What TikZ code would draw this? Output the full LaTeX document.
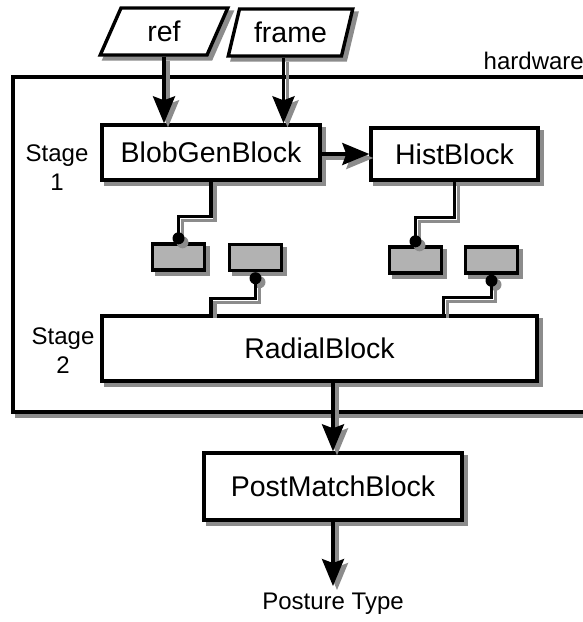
\documentclass[tikz,border=0pt]{standalone}
\usepackage{fontspec}
\setmainfont{Liberation Sans}
\usetikzlibrary{shapes.geometric,arrows.meta,shadows}
\definecolor{shadowgray}{RGB}{140,140,140}
\definecolor{boxgray}{RGB}{178,178,178}
\newcommand\bigfnt{\fontsize{28.5}{30}\selectfont}
\newcommand\smfnt{\fontsize{24}{29}\selectfont}
\tikzset{
 sh/.style={drop shadow={shadow xshift=4pt,shadow yshift=-4pt,fill=shadowgray,draw=shadowgray,line width=3.4pt,opacity=1}},
 blk/.style={draw=black, line width=3.4pt, fill=white, inner sep=0pt, font=\bigfnt, sh},
 smallbox/.style={draw=black, line width=3.4pt, fill=boxgray, inner sep=0pt, minimum width=52pt, minimum height=26pt, sh},
 io/.style={trapezium, trapezium left angle=69, trapezium right angle=111, trapezium stretches=true, draw=black, line width=3.4pt, fill=white, inner sep=0pt, font=\bigfnt, sh, minimum height=47pt},
 lbl/.style={font=\smfnt, align=center, inner sep=0pt},
 conn/.style={draw=black, line width=3.4pt},
 shad/.style={draw=shadowgray, line width=3.4pt, transform canvas={xshift=4pt,yshift=-4pt}},
 dconn/.style={fill=black},
 dshad/.style={fill=shadowgray, transform canvas={xshift=4pt,yshift=-4pt}},
 arr/.style={-{Stealth[length=27pt,width=22pt,inset=4pt]}}
}
\begin{document}
\begin{tikzpicture}[x=1pt,y=-1pt,line join=miter]
\useasboundingbox (0,0) rectangle (583,622);
\clip (0,0) rectangle (583,622);
% hardware region
\node[draw=black, line width=3.4pt, fill=white, inner sep=0pt, sh, minimum width=597pt, minimum height=335pt] (hw) at (311.5,244.5) {};
\node[lbl, anchor=east] (hwl) at (584,61) {hardware};
% inputs
\node[io, minimum width=128pt] (ref) at (164,31.5) {ref};
\node[io, minimum width=125pt] (frame) at (290.5,32.5) {frame};
% blocks
\node[blk, minimum width=218pt, minimum height=55pt] (blob) at (211,152.5) {BlobGenBlock};
\node[blk, minimum width=167pt, minimum height=52pt] (hist) at (454.5,154) {HistBlock};
\node[smallbox] (b1) at (178.5,257) {};
\node[smallbox] (b2) at (255.5,257.5) {};
\node[smallbox] (b3) at (415.5,260) {};
\node[smallbox] (b4) at (491.5,260) {};
\node[blk, minimum width=435pt, minimum height=65pt] (radial) at (319.5,348.5) {RadialBlock};
\node[blk, minimum width=258pt, minimum height=67pt] (post) at (333,486.5) {PostMatchBlock};
\node[lbl] (posture) at (333,604) {Posture Type};
\node[lbl] (s1) at (57,168) {Stage\\1};
\node[lbl] (s2) at (63,351) {Stage\\2};
% connectors
\foreach \s/\d in {shad/dshad,conn/dconn}{
 \draw[\s,arr] (ref.south) -- (ref.south |- blob.north);
 \draw[\s,arr] ([xshift=-7pt]frame.south) -- ([xshift=-7pt]frame.south |- blob.north);
 \draw[\s,arr] (blob.east |- hist.west) -- (hist.west);
 \draw[\s] (blob.south) -- ++(0,35) -| ([yshift=4pt]b1.north);
 \path[\d] ([yshift=4pt]b1.north) circle[radius=6pt];
 \draw[\s] ([yshift=-6pt]b2.south) -- ++(0,20) -| (blob.south |- radial.north);
 \path[\d] ([yshift=-6pt]b2.south) circle[radius=6pt];
 \draw[\s] (hist.south) -- ++(0,36) -| ([yshift=4pt]b3.north);
 \path[\d] ([yshift=4pt]b3.north) circle[radius=6pt];
 \draw[\s] ([yshift=-6pt]b4.south) -- ++(0,17) -| (b3.east |- radial.north);
 \path[\d] ([yshift=-6pt]b4.south) circle[radius=6pt];
 \draw[\s,arr] (post.north |- radial.south) -- (post.north);
 \draw[\s,arr,shorten >=7pt] (post.south) -- (posture.north);
}
\end{tikzpicture}
\end{document}
